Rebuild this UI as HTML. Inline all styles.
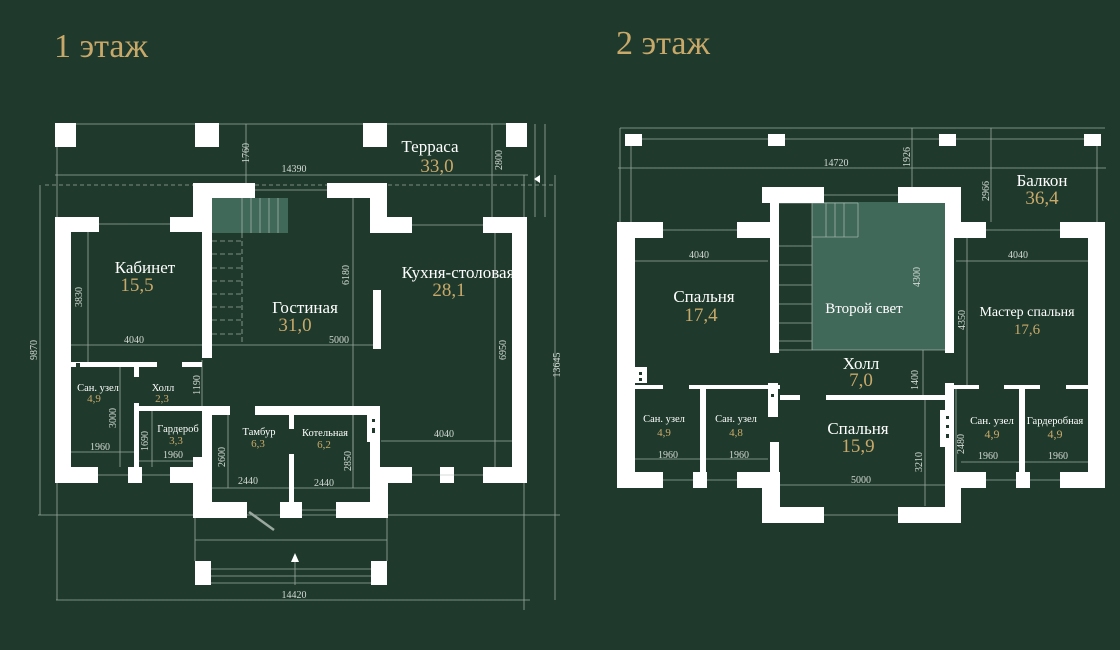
<!DOCTYPE html>
<html><head><meta charset="utf-8"><style>
html,body{margin:0;padding:0;background:#1f3a2c;width:1120px;height:650px;overflow:hidden}
svg{display:block}
text{font-family:"Liberation Serif",serif}
.w{fill:#fff}
.l{stroke:#b9c4bd;stroke-width:0.8;fill:none;opacity:.8}
.d{fill:#d4dad6;font-size:10px;text-anchor:middle}
.n{fill:#fff;text-anchor:middle}
.g{fill:#c9a96a;text-anchor:middle}
</style></head><body>
<svg width="1120" height="650" viewBox="0 0 1120 650">
<text x="54" y="57" fill="#c9a96a" font-size="34">1 этаж</text>
<text x="616" y="54" fill="#c9a96a" font-size="34">2 этаж</text>

<!-- ===== FLOOR 1 ===== -->
<g class="l">
<line x1="76" y1="124" x2="506" y2="124"/>
<line x1="57" y1="147" x2="57" y2="217"/>
<line x1="55" y1="175" x2="528" y2="175"/>
<line x1="45" y1="185" x2="555" y2="185" stroke-dasharray="4 3"/>
<line x1="40" y1="185" x2="40" y2="515"/>
<line x1="38" y1="515" x2="560" y2="515"/>
<line x1="545" y1="124" x2="545" y2="217"/>
<line x1="535" y1="124" x2="535" y2="217"/>
<line x1="56" y1="600" x2="530" y2="600"/>
<line x1="57" y1="483" x2="57" y2="600"/>
<line x1="555" y1="175" x2="555" y2="600"/>
<line x1="524" y1="175" x2="524" y2="610"/>
<line x1="246" y1="124" x2="246" y2="183"/>
<line x1="492" y1="124" x2="492" y2="217"/>
<line x1="353" y1="198" x2="353" y2="470"/>
<line x1="71" y1="345" x2="373" y2="345"/>
<line x1="88" y1="232" x2="88" y2="362"/>
<line x1="495" y1="233" x2="495" y2="467"/>
<line x1="381" y1="441" x2="512" y2="441"/>
<line x1="71" y1="452" x2="134" y2="452"/>
<line x1="139" y1="461" x2="202" y2="461"/>
<line x1="120" y1="367" x2="120" y2="467"/>
<line x1="152" y1="411" x2="152" y2="467"/>
<line x1="212" y1="488" x2="370" y2="488"/>
<line x1="228" y1="415" x2="228" y2="488"/>
<line x1="353" y1="415" x2="353" y2="488"/>
<line x1="202" y1="360" x2="202" y2="406"/>
<line x1="195" y1="540" x2="387" y2="540"/>
<line x1="211" y1="569" x2="371" y2="569"/>
<line x1="211" y1="576" x2="371" y2="576"/>
<line x1="211" y1="583" x2="371" y2="583"/>
<line x1="295" y1="560" x2="295" y2="585"/>
<line x1="195" y1="518" x2="195" y2="561"/>
<line x1="387" y1="518" x2="387" y2="561"/>
<line x1="249" y1="512" x2="274" y2="530" stroke-width="2.5"/>
</g>
<polygon points="295,553 291,562 299,562" fill="#fff"/>
<polygon points="540,175 534,179 540,183" fill="#fff"/>
<rect x="212" y="198" width="76" height="35" fill="#41695a"/>
<g class="l"><line x1="242" y1="198" x2="242" y2="233"/><line x1="251" y1="198" x2="251" y2="233"/><line x1="260" y1="198" x2="260" y2="233"/><line x1="269" y1="198" x2="269" y2="233"/><line x1="278" y1="198" x2="278" y2="233"/>
<g stroke-dasharray="5 3"><line x1="212" y1="241" x2="242" y2="241"/><line x1="212" y1="254" x2="242" y2="254"/><line x1="212" y1="268" x2="242" y2="268"/><line x1="212" y1="281" x2="242" y2="281"/><line x1="212" y1="294" x2="242" y2="294"/><line x1="212" y1="307" x2="242" y2="307"/><line x1="212" y1="320" x2="242" y2="320"/><line x1="212" y1="334" x2="242" y2="334"/><line x1="242" y1="233" x2="242" y2="345"/></g></g>
<g class="w">
<rect x="55" y="123" width="21" height="24"/><rect x="195" y="123" width="24" height="24"/><rect x="363" y="123" width="24" height="24"/><rect x="506" y="123" width="21" height="24"/>
<rect x="55" y="217" width="16" height="266"/><rect x="55" y="217" width="44" height="15"/><rect x="170" y="217" width="32" height="15"/>
<rect x="193" y="183" width="19" height="44"/><rect x="202" y="183" width="10" height="175"/><rect x="193" y="183" width="62" height="15"/><rect x="327" y="183" width="60" height="15"/>
<rect x="370" y="183" width="17" height="50"/><rect x="370" y="217" width="42" height="16"/><rect x="483" y="217" width="44" height="16"/>
<rect x="512" y="217" width="15" height="266"/><rect x="483" y="467" width="44" height="16"/><rect x="440" y="467" width="14" height="16"/><rect x="380" y="467" width="32" height="16"/>
<rect x="370" y="406" width="10" height="77"/><rect x="255" y="406" width="125" height="9"/><rect x="370" y="467" width="18" height="51"/>
<rect x="373" y="290" width="8" height="59"/>
<rect x="202" y="406" width="28" height="9"/><rect x="202" y="406" width="10" height="51"/><rect x="193" y="457" width="19" height="61"/><rect x="193" y="502" width="54" height="16"/>
<rect x="280" y="502" width="22" height="16"/><rect x="336" y="502" width="52" height="16"/>
<rect x="289" y="415" width="5" height="14"/><rect x="289" y="454" width="5" height="50"/>
<rect x="71" y="362" width="86" height="5"/><rect x="182" y="362" width="20" height="5"/><rect x="134" y="367" width="5" height="10"/>
<rect x="134" y="403" width="5" height="64"/><rect x="139" y="406" width="63" height="5"/><rect x="202" y="415" width="8" height="17"/>
<rect x="55" y="467" width="43" height="16"/><rect x="128" y="467" width="14" height="16"/><rect x="170" y="467" width="32" height="16"/>
<rect x="367" y="415" width="13" height="27"/>
<rect x="195" y="561" width="16" height="24"/><rect x="371" y="561" width="16" height="24"/>
</g>
<g fill="#1f3a2c"><rect x="76" y="363" width="4" height="4"/><rect x="372" y="419" width="3" height="3"/><rect x="372" y="428" width="3" height="5"/></g>
<g class="l"><line x1="99" y1="224" x2="170" y2="224"/><line x1="255" y1="190" x2="327" y2="190"/><line x1="412" y1="225" x2="483" y2="225"/><line x1="412" y1="475" x2="483" y2="475"/><line x1="98" y1="475" x2="128" y2="475"/><line x1="142" y1="475" x2="170" y2="475"/><line x1="302" y1="510" x2="336" y2="510"/></g>
<text class="n" x="430" y="152" font-size="17">Терраса</text><text class="g" x="437" y="172" font-size="19">33,0</text>
<text class="n" x="145" y="273" font-size="17">Кабинет</text><text class="g" x="137" y="291" font-size="19">15,5</text>
<text class="n" x="305" y="313" font-size="17">Гостиная</text><text class="g" x="295" y="331" font-size="19">31,0</text>
<text class="n" x="458" y="278" font-size="17">Кухня-столовая</text><text class="g" x="449" y="296" font-size="19">28,1</text>
<text class="n" x="98" y="391" font-size="10.5">Сан. узел</text><text class="g" x="94" y="402" font-size="11">4,9</text>
<text class="n" x="163" y="391" font-size="10.5">Холл</text><text class="g" x="162" y="402" font-size="11">2,3</text>
<text class="n" x="178" y="432" font-size="10.5">Гардероб</text><text class="g" x="176" y="444" font-size="11">3,3</text>
<text class="n" x="259" y="435" font-size="10.5">Тамбур</text><text class="g" x="258" y="447" font-size="11">6,3</text>
<text class="n" x="325" y="436" font-size="10.5">Котельная</text><text class="g" x="324" y="448" font-size="11">6,2</text>
<g class="d">
<text x="294" y="172">14390</text><text x="134" y="343">4040</text><text x="339" y="343">5000</text><text x="444" y="437">4040</text>
<text x="100" y="450">1960</text><text x="173" y="458">1960</text><text x="248" y="484">2440</text><text x="324" y="486">2440</text><text x="294" y="598">14420</text>
<text transform="translate(249,153) rotate(-90)">1760</text><text transform="translate(502,160) rotate(-90)">2800</text>
<text transform="translate(82,297) rotate(-90)">3830</text><text transform="translate(349,275) rotate(-90)">6180</text>
<text transform="translate(506,350) rotate(-90)">6950</text><text transform="translate(560,365) rotate(-90)">13645</text>
<text transform="translate(37,350) rotate(-90)">9870</text><text transform="translate(200,385) rotate(-90)">1190</text>
<text transform="translate(116,418) rotate(-90)">3000</text><text transform="translate(148,441) rotate(-90)">1690</text>
<text transform="translate(225,457) rotate(-90)">2600</text><text transform="translate(351,461) rotate(-90)">2850</text>
</g>

<!-- ===== FLOOR 2 ===== -->
<g class="l">
<line x1="620" y1="128" x2="1105" y2="128"/><line x1="620" y1="128" x2="620" y2="222"/>
<line x1="642" y1="139" x2="1084" y2="139"/>
<line x1="631" y1="146" x2="631" y2="222"/><line x1="1097" y1="146" x2="1097" y2="222"/>
<line x1="618" y1="168" x2="1106" y2="168"/>
<line x1="912" y1="128" x2="912" y2="187"/><line x1="991" y1="128" x2="991" y2="222"/>
<line x1="635" y1="261" x2="768" y2="261"/><line x1="956" y1="261" x2="1088" y2="261"/>
<line x1="923" y1="203" x2="923" y2="400"/><line x1="967" y1="238" x2="967" y2="385"/>
<line x1="925" y1="400" x2="925" y2="506"/><line x1="956" y1="389" x2="956" y2="472"/>
<line x1="635" y1="459" x2="700" y2="459"/><line x1="706" y1="459" x2="768" y2="459"/>
<line x1="961" y1="462" x2="1019" y2="462"/><line x1="1025" y1="462" x2="1088" y2="462"/>
<line x1="780" y1="485" x2="945" y2="485"/>
<line x1="663" y1="230" x2="737" y2="230"/><line x1="824" y1="195" x2="898" y2="195"/><line x1="986" y1="230" x2="1060" y2="230"/>
<line x1="663" y1="480" x2="693" y2="480"/><line x1="707" y1="480" x2="737" y2="480"/><line x1="824" y1="515" x2="898" y2="515"/><line x1="986" y1="480" x2="1016" y2="480"/><line x1="1030" y1="480" x2="1060" y2="480"/>
</g>
<rect x="812" y="202" width="133" height="148" fill="#41695a"/>
<g class="l"><line x1="779" y1="203" x2="858" y2="203"/><line x1="858" y1="203" x2="858" y2="237"/><line x1="812" y1="237" x2="858" y2="237"/><line x1="812" y1="203" x2="812" y2="350"/>
<line x1="826" y1="203" x2="826" y2="237"/><line x1="835" y1="203" x2="835" y2="237"/><line x1="844" y1="203" x2="844" y2="237"/>
<line x1="779" y1="246" x2="812" y2="246"/><line x1="779" y1="265" x2="812" y2="265"/><line x1="779" y1="285" x2="812" y2="285"/><line x1="779" y1="304" x2="812" y2="304"/><line x1="779" y1="323" x2="812" y2="323"/><line x1="779" y1="341" x2="812" y2="341"/><line x1="779" y1="350" x2="945" y2="350"/></g>
<g class="w">
<rect x="625" y="134" width="17" height="12"/><rect x="768" y="134" width="17" height="12"/><rect x="939" y="134" width="17" height="12"/><rect x="1084" y="134" width="17" height="12"/>
<rect x="617" y="222" width="18" height="266"/><rect x="617" y="222" width="46" height="16"/><rect x="737" y="222" width="35" height="16"/>
<rect x="770" y="187" width="9" height="166"/><rect x="762" y="187" width="62" height="16"/><rect x="898" y="187" width="63" height="16"/>
<rect x="945" y="187" width="9" height="166"/><rect x="945" y="187" width="16" height="51"/><rect x="945" y="222" width="41" height="16"/><rect x="1060" y="222" width="45" height="16"/>
<rect x="1088" y="222" width="17" height="266"/>
<rect x="617" y="472" width="46" height="16"/><rect x="693" y="472" width="14" height="16"/><rect x="737" y="472" width="43" height="16"/>
<rect x="770" y="442" width="9" height="81"/><rect x="762" y="472" width="18" height="51"/><rect x="762" y="507" width="62" height="16"/><rect x="898" y="507" width="63" height="16"/>
<rect x="945" y="383" width="9" height="140"/><rect x="945" y="472" width="16" height="51"/><rect x="945" y="472" width="41" height="16"/><rect x="1016" y="472" width="14" height="16"/><rect x="1060" y="472" width="45" height="16"/>
<rect x="635" y="385" width="28" height="4"/><rect x="689" y="385" width="91" height="4"/><rect x="700" y="389" width="6" height="83"/>
<rect x="953" y="385" width="26" height="4"/><rect x="1004" y="385" width="36" height="4"/><rect x="1019" y="389" width="6" height="83"/><rect x="1066" y="385" width="22" height="4"/>
<rect x="780" y="395" width="20" height="5"/><rect x="826" y="395" width="119" height="5"/><rect x="768" y="383" width="10" height="34"/>
<rect x="635" y="367" width="12" height="16"/><rect x="940" y="410" width="10" height="37"/>
</g>
<g fill="#1f3a2c"><rect x="639" y="372" width="3" height="3"/><rect x="639" y="378" width="3" height="3"/><rect x="771" y="394" width="3" height="3"/><rect x="946" y="416" width="3" height="3"/><rect x="946" y="425" width="3" height="3"/><rect x="946" y="434" width="3" height="4"/></g>
<text class="n" x="1042" y="186" font-size="17">Балкон</text><text class="g" x="1042" y="204" font-size="19">36,4</text>
<text class="n" x="704" y="302" font-size="17">Спальня</text><text class="g" x="701" y="321" font-size="19">17,4</text>
<text class="n" x="864" y="313" font-size="15">Второй свет</text>
<text class="n" x="1027" y="316" font-size="14">Мастер спальня</text><text class="g" x="1027" y="334" font-size="15">17,6</text>
<text class="n" x="861" y="369" font-size="17">Холл</text><text class="g" x="861" y="386" font-size="19">7,0</text>
<text class="n" x="858" y="434" font-size="17">Спальня</text><text class="g" x="858" y="452" font-size="19">15,9</text>
<text class="n" x="664" y="422" font-size="10.5">Сан. узел</text><text class="g" x="664" y="436" font-size="11">4,9</text>
<text class="n" x="736" y="422" font-size="10.5">Сан. узел</text><text class="g" x="736" y="436" font-size="11">4,8</text>
<text class="n" x="992" y="424" font-size="11">Сан. узел</text><text class="g" x="992" y="438" font-size="12">4,9</text>
<text class="n" x="1055" y="424" font-size="10.5">Гардеробная</text><text class="g" x="1055" y="438" font-size="12">4,9</text>
<g class="d">
<text x="836" y="166">14720</text><text x="699" y="258">4040</text><text x="1018" y="258">4040</text>
<text x="668" y="458">1960</text><text x="739" y="458">1960</text><text x="988" y="459">1960</text><text x="1058" y="459">1960</text><text x="861" y="483">5000</text>
<text transform="translate(910,157) rotate(-90)">1926</text><text transform="translate(989,191) rotate(-90)">2966</text>
<text transform="translate(920,277) rotate(-90)">4300</text><text transform="translate(965,320) rotate(-90)">4350</text>
<text transform="translate(918,380) rotate(-90)">1400</text><text transform="translate(922,462) rotate(-90)">3210</text>
<text transform="translate(964,444) rotate(-90)">2480</text>
</g>
</svg>
</body></html>
